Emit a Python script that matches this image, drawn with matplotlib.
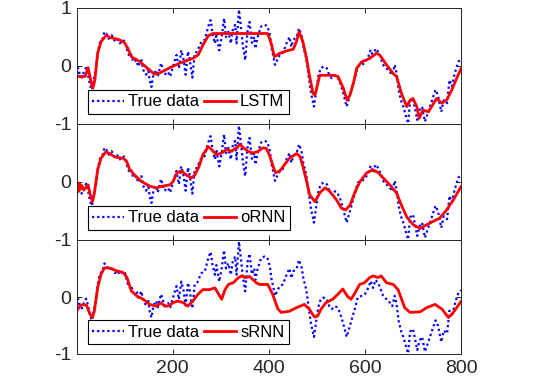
import numpy as np
import matplotlib
matplotlib.use('AGG')
import matplotlib.pyplot as plt

# true signal (same in every panel)
trueX = [0, 3, 7, 11, 15, 20, 24, 28, 32, 37, 41, 44, 48, 55, 58, 62, 67, 73, 77, 80,
         85, 90, 96, 101, 107, 111, 114, 118, 125, 128, 135, 139, 145, 149, 152, 156, 160, 166, 169, 176,
         183, 190, 195, 201, 208, 213, 218, 223, 227, 232, 235, 241, 246, 251, 255, 260, 267, 274, 279, 283,
         288, 291, 297, 302, 307, 311, 316, 321, 325, 330, 333, 338, 342, 346, 351, 356, 360, 365, 370, 372,
         377, 384, 391, 397, 402, 406, 410, 413, 419, 423, 429, 433, 437, 443, 447, 451, 458, 463, 468, 472,
         478, 483, 488, 494, 498, 503, 508, 514, 521, 526, 531, 538, 542, 548, 555, 562, 568, 573, 580, 585,
         593, 600, 607, 612, 617, 622, 627, 632, 638, 645, 652, 657, 662, 666, 670, 675, 680, 685, 690, 694,
         700, 705, 709, 714, 719, 725, 733, 740, 747, 752, 759, 764, 771, 776, 781, 786, 790, 795, 800]
trueY = [-0.22, -0.03, -0.15, -0.2, -0.11, -0.03, -0.15, -0.33, -0.41, -0.18, -0.02, 0.22, 0.39, 0.48, 0.59, 0.56, 0.47, 0.53, 0.48, 0.42,
         0.46, 0.39, 0.45, 0.42, 0.22, 0.16, 0.2, 0.07, 0.1, -0.01, 0.1, -0.07, -0.15, -0.04, -0.24, -0.36, -0.15, -0.07, -0.18, 0.05,
         -0.15, -0.1, -0.18, 0.0, 0.19, -0.04, 0.27, 0.1, -0.15, 0.25, 0.14, -0.2, 0.22, 0.25, 0.33, 0.42, 0.45, 0.68, 0.79, 0.56,
         0.39, 0.56, 0.27, 0.5, 0.82, 0.5, 0.59, 0.39, 0.62, 0.71, 0.39, 0.97, 0.68, 0.36, 0.1, 0.62, 0.76, 0.4, 0.5, 0.3,
         0.5, 0.68, 0.71, 0.69, 0.55, 0.3, 0.15, 0.02, 0.13, 0.19, 0.22, 0.3, 0.39, 0.5, 0.33, 0.45, 0.5, 0.65, 0.53, 0.33,
         0.13, -0.18, -0.47, -0.7, -0.47, -0.18, -0.04, -0.01, -0.04, -0.16, -0.21, -0.16, -0.18, -0.27, -0.47, -0.7, -0.53, -0.38, -0.18, -0.01,
         0.02, 0.05, 0.16, 0.28, 0.16, 0.3, 0.25, 0.16, 0.02, -0.04, -0.1, -0.16, 0.02, -0.13, -0.41, -0.59, -0.7, -0.85, -0.99, -0.61,
         -0.56, -0.76, -0.93, -0.76, -0.7, -0.96, -0.76, -0.59, -0.41, -0.5, -0.79, -0.59, -0.64, -0.24, -0.35, -0.16, -0.04, 0.08, 0.12]

lstmX = [0, 18, 24, 31, 34, 38, 44, 51, 62, 70, 76, 90, 100, 107, 114, 131, 145, 162, 173, 194,
         215, 242, 253, 263, 274, 284, 340, 398, 405, 412, 423, 437, 451, 458, 463, 471, 478, 485, 492, 496,
         499, 506, 534, 544, 555, 563, 569, 576, 583, 593, 610, 624, 631, 645, 659, 666, 676, 687, 694, 700,
         708, 713, 721, 732, 739, 749, 760, 770, 781, 791, 800]
lstmY = [-0.18, -0.18, -0.03, -0.3, -0.38, -0.25, 0.22, 0.42, 0.53, 0.49, 0.48, 0.45, 0.4, 0.3, 0.16, 0.08, -0.02, -0.14, -0.12, -0.03,
         0.05, 0.13, 0.19, 0.36, 0.52, 0.56, 0.56, 0.56, 0.39, 0.16, 0.22, 0.26, 0.29, 0.43, 0.59, 0.42, 0.16, -0.18, -0.47, -0.5,
         -0.41, -0.16, -0.16, -0.18, -0.38, -0.59, -0.5, -0.3, -0.04, 0.07, 0.13, 0.22, 0.19, 0.02, -0.13, -0.18, -0.47, -0.7, -0.59, -0.56,
         -0.7, -0.9, -0.76, -0.79, -0.7, -0.56, -0.64, -0.59, -0.41, -0.21, -0.05]

ornnX = [0, 3, 5, 6, 8, 11, 15, 24, 28, 33, 37, 44, 51, 61, 69, 80, 97, 104, 111, 121,
         135, 152, 166, 180, 194, 201, 209, 218, 229, 239, 246, 255, 263, 274, 281, 291, 302, 312, 322, 333,
         340, 347, 357, 368, 378, 388, 395, 402, 409, 414, 423, 433, 443, 458, 465, 471, 478, 485, 496, 506,
         517, 527, 541, 551, 560, 569, 580, 590, 604, 617, 628, 638, 652, 666, 676, 687, 701, 715, 728, 742,
         756, 770, 784, 800]
ornnY = [-0.22, -0.08, -0.16, -0.02, -0.12, -0.06, -0.14, -0.05, -0.2, -0.34, -0.2, 0.21, 0.41, 0.52, 0.49, 0.43, 0.41, 0.36, 0.21, 0.12,
         0.01, -0.07, -0.1, -0.07, -0.05, 0.01, 0.16, 0.19, 0.12, 0.07, 0.12, 0.27, 0.47, 0.61, 0.56, 0.47, 0.5, 0.56, 0.53, 0.59,
         0.65, 0.59, 0.53, 0.5, 0.53, 0.59, 0.58, 0.45, 0.27, 0.16, 0.19, 0.3, 0.41, 0.49, 0.44, 0.27, 0.04, -0.22, -0.34, -0.19,
         -0.1, -0.16, -0.31, -0.45, -0.48, -0.4, -0.16, 0.01, 0.16, 0.21, 0.16, 0.07, -0.05, -0.19, -0.4, -0.6, -0.74, -0.8, -0.74, -0.68,
         -0.62, -0.48, -0.31, -0.08]

srnnX = [0, 7, 14, 21, 28, 33, 37, 44, 51, 58, 69, 83, 97, 105, 114, 125, 139, 152, 166, 176,
         183, 190, 201, 211, 222, 232, 242, 253, 263, 277, 288, 302, 309, 316, 326, 337, 344, 351, 360, 374,
         381, 398, 408, 419, 426, 443, 457, 474, 484, 495, 502, 509, 519, 533, 544, 554, 564, 571, 578, 589,
         599, 610, 617, 627, 634, 645, 659, 669, 683, 694, 715, 728, 746, 760, 774, 784, 800]
srnnY = [-0.25, -0.16, -0.13, -0.15, -0.3, -0.36, -0.25, 0.16, 0.4, 0.51, 0.51, 0.46, 0.43, 0.34, 0.11, 0.02, -0.04, -0.13, -0.16, -0.1,
         -0.16, -0.16, -0.1, -0.07, -0.1, -0.16, -0.07, 0.05, 0.13, 0.13, 0.16, -0.04, 0.13, 0.22, 0.25, 0.34, 0.37, 0.34, 0.36, 0.25,
         0.22, 0.22, 0.05, -0.21, -0.27, -0.25, -0.19, -0.13, -0.21, -0.35, -0.33, -0.21, -0.1, -0.04, 0.05, 0.14, 0.01, -0.04, 0.05, 0.22,
         0.25, 0.34, 0.37, 0.34, 0.37, 0.25, 0.22, 0.13, -0.19, -0.27, -0.26, -0.19, -0.13, -0.21, -0.36, -0.27, -0.08]

modelNames = ['LSTM', 'oRNN', 'sRNN']
xTicks = [200, 400, 600, 800]


def main():
    plt.rcParams['font.family'] = ['Liberation Sans', 'DejaVu Sans']
    fig = plt.figure(figsize=(5.38, 3.78), dpi=100)

    # panel rectangles measured in pixels: top, bottom
    panelRows = [(8, 124), (124, 240), (240, 354)]
    predictions = [(lstmX, lstmY), (ornnX, ornnY), (srnnX, srnnY)]

    for i in range(3):
        top, bottom = panelRows[i]
        ax = fig.add_axes([77 / 538, 1 - bottom / 378, 384 / 538, (bottom - top) / 378])
        DrawPanel(ax, predictions[i], modelNames[i], i)

    fig.savefig("out.png", dpi=100)


def DrawPanel(ax, prediction, name, index):
    trueLine, = ax.plot(trueX, trueY, color='#0000ff', linewidth=1.6, label='True data')
    trueLine.set_dashes([1, 1.3])
    trueLine.set_dash_capstyle('butt')
    ax.plot(prediction[0], prediction[1], color='#ff0000', linewidth=2, label=name)

    ax.set_xlim(1, 800)
    ax.set_ylim(-1, 1)
    ax.set_xticks(xTicks)
    ax.set_yticks([-1, 0, 1])
    if index == 0:
        ax.set_yticklabels(['-1', '0', '1'])
    else:
        ax.set_yticklabels(['-1', '0', ''])
    if index < 2:
        ax.set_xticklabels([])

    ax.tick_params(direction='in', top=True, right=True, length=3.5, width=0.7,
                   labelsize=14, colors='#262626', pad=4)
    for spine in ax.spines.values():
        spine.set_color('#262626')
        spine.set_linewidth(0.7)

    leg = ax.legend(loc='lower left', bbox_to_anchor=(0.029, 0.09), borderaxespad=0,
                    ncol=2, fontsize=12, frameon=True, fancybox=False,
                    handlelength=1.9, handletextpad=0.25, columnspacing=0.3,
                    borderpad=0.25)
    leg.get_frame().set_edgecolor('black')
    leg.get_frame().set_linewidth(0.8)
    leg.get_frame().set_alpha(1)


if __name__ == "__main__":
    main()
